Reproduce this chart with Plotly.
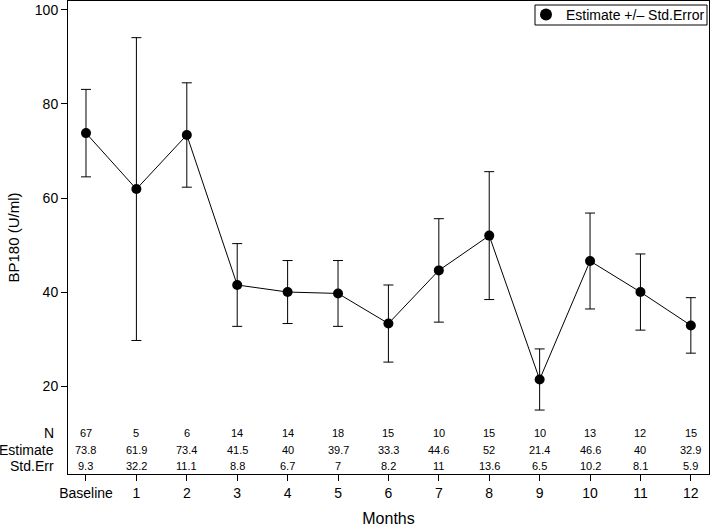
import plotly.graph_objects as go

categories = ["Baseline", "1", "2", "3", "4", "5", "6", "7", "8", "9", "10", "11", "12"]
n_values = [67, 5, 6, 14, 14, 18, 15, 10, 15, 10, 13, 12, 15]
estimates = [73.8, 61.9, 73.4, 41.5, 40, 39.7, 33.3, 44.6, 52, 21.4, 46.6, 40, 32.9]
std_errs = [9.3, 32.2, 11.1, 8.8, 6.7, 7, 8.2, 11, 13.6, 6.5, 10.2, 8.1, 5.9]
row_labels = ["N", "Estimate", "Std.Err"]
row_y = [10.0, 6.4, 3.0]

FONT = "Arial, Liberation Sans, sans-serif"
xs = list(range(len(categories)))

# plot area in pixels: x 68..709, y 1..474
PW, PH = 641.0, 473.0
def px_x(p):
    return (p - 68) / PW
def px_y(p):
    return 1 - (p - 1) / PH

fig = go.Figure()
fig.add_trace(go.Scatter(
    x=xs, y=estimates, mode="lines", showlegend=False,
    line=dict(color="black", width=1), hoverinfo="skip",
))
fig.add_trace(go.Scatter(
    x=xs, y=estimates, mode="markers",
    name="Estimate +/\u2013 Std.Error",
    marker=dict(color="black", size=10),
    error_y=dict(type="data", array=std_errs, visible=True, color="black", thickness=1, width=5),
))

def fmt(v):
    return f"{v:g}"

rows = [n_values, estimates, std_errs]
for ry, lab, vals in zip(row_y, row_labels, rows):
    fig.add_annotation(x=px_x(56), y=ry, xref="paper", yref="y", text=lab, showarrow=False,
                       xanchor="right", yanchor="middle", font=dict(size=14, color="black", family=FONT))
    for xi, v in zip(xs, vals):
        fig.add_annotation(x=xi, y=ry, xref="x", yref="y", text=fmt(v), showarrow=False,
                           xanchor="center", yanchor="middle", font=dict(size=11, color="black", family=FONT))

# legend frame
fig.add_shape(type="rect", xref="paper", yref="paper",
              x0=px_x(535), x1=px_x(707), y0=px_y(25), y1=px_y(5),
              line=dict(color="black", width=1), fillcolor="rgba(0,0,0,0)", layer="above")

fig.update_layout(
    width=711, height=527,
    margin=dict(l=68, r=2, t=1, b=53, autoexpand=False),
    paper_bgcolor="white", plot_bgcolor="white",
    font=dict(family=FONT, color="black", size=14),
    showlegend=True,
    legend=dict(x=px_x(526), y=px_y(15), xanchor="left", yanchor="middle",
                borderwidth=0, bgcolor="rgba(0,0,0,0)",
                font=dict(size=14), itemsizing="constant", itemwidth=30,
                tracegroupgap=0),
    xaxis=dict(range=[-0.357, 12.36], tickmode="array", tickvals=xs, ticktext=categories,
               showgrid=False, zeroline=False, showline=True, linecolor="black", linewidth=1,
               mirror=True, ticks="outside", ticklen=6, tickcolor="black",
               tickfont=dict(size=14),
               title=dict(text="Months", font=dict(size=16), standoff=14)),
    yaxis=dict(range=[1.3, 101.9], tickvals=[20, 40, 60, 80, 100],
               showgrid=False, zeroline=False, showline=True, linecolor="black", linewidth=1,
               mirror=True, ticks="outside", ticklen=6, tickcolor="black",
               tickfont=dict(size=14),
               title=dict(text="BP180 (U/ml)", font=dict(size=15), standoff=11)),
)

fig.write_html("out.html", config={"displayModeBar": False},
               post_script="document.body.style.margin='0px';document.body.style.padding='0px';")
